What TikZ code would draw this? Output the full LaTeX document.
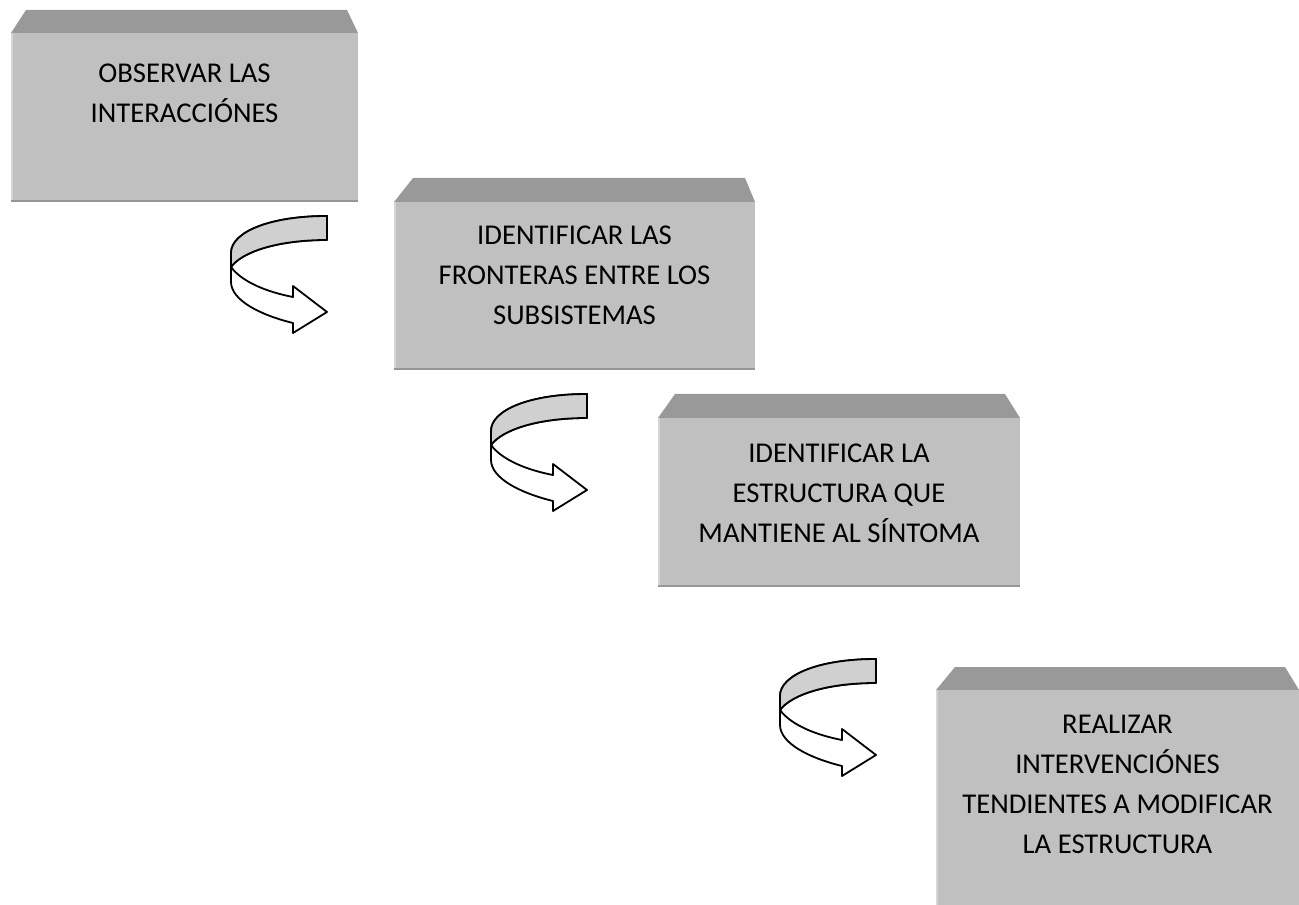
\documentclass[tikz,border=0pt]{standalone}
\usepackage{fontspec}
\setmainfont{Carlito}
\definecolor{facegray}{RGB}{192,192,192}
\definecolor{topgray}{RGB}{153,153,153}
\definecolor{bandgray}{RGB}{208,208,208}
\definecolor{edgedark}{RGB}{150,150,150}
\definecolor{edgelight}{RGB}{214,214,214}
\tikzset{
  lbl/.style={anchor=north, align=center, inner sep=0pt, text=black,
    font=\fontsize{21.5}{30}\selectfont},
  arrowline/.style={draw=black, line width=1.35pt, line join=round},
  curvedarrow/.pic={
    \filldraw[arrowline, fill=white] (0,0) .. controls (-57,0) and (-96,16) .. (-96,37)
      -- (-96,66) .. controls (-96,84) and (-67,99) .. (-34,107)
      -- (-34,117) -- (0,96) -- (-34,70) -- (-34,81)
      .. controls (-60,76) and (-85,66) .. (-96,51)
      .. controls (-85,36) and (-50,24) .. (0,24) -- cycle;
    \filldraw[arrowline, fill=bandgray] (0,0) .. controls (-57,0) and (-96,16) .. (-96,37)
      -- (-96,51) .. controls (-85,36) and (-50,24) .. (0,24) -- cycle;
  }
}
\newcommand{\cubebox}[7]{% xl, xr, ytop, ybev, ybot, topxl, topxr
  \fill[topgray] (#1,#4) -- (#6,#3) -- (#7,#3) -- (#2,#4) -- cycle;
  \fill[facegray] (#1,#4) rectangle (#2,#5);
  \draw[edgelight, line width=1pt] (#1+1,#5) -- (#1+1,#4);
  \draw[edgedark, line width=1pt] (#1,#5-1) -- (#2,#5-1);
}
\begin{document}
\begin{tikzpicture}[x=0.75pt, y=-0.75pt]
  \useasboundingbox (0,0) rectangle (1299,905);
  \cubebox{11}{358}{10}{33}{202}{26}{347}
  \cubebox{394}{755}{178}{202}{370}{413}{745}
  \cubebox{658}{1020}{394}{418}{587}{675}{1005}
  \cubebox{936}{1299}{667}{690}{907}{955}{1285}
  \node[lbl] (t1) at (184.5,63.5) {OBSERVAR LAS\\INTERACCIÓNES};
  \node[lbl] (t2) at (574.5,225.5) {IDENTIFICAR LAS\\FRONTERAS ENTRE LOS\\SUBSISTEMAS};
  \node[lbl] (t3) at (839,443.5) {IDENTIFICAR LA\\ESTRUCTURA QUE\\MANTIENE AL SÍNTOMA};
  \node[lbl] (t4) at (1117.5,714.5) {REALIZAR\\INTERVENCIÓNES\\TENDIENTES A MODIFICAR\\LA ESTRUCTURA};
  \pic at (327,216) {curvedarrow};
  \pic at (587,394) {curvedarrow};
  \pic at (876,659) {curvedarrow};
\end{tikzpicture}
\end{document}
